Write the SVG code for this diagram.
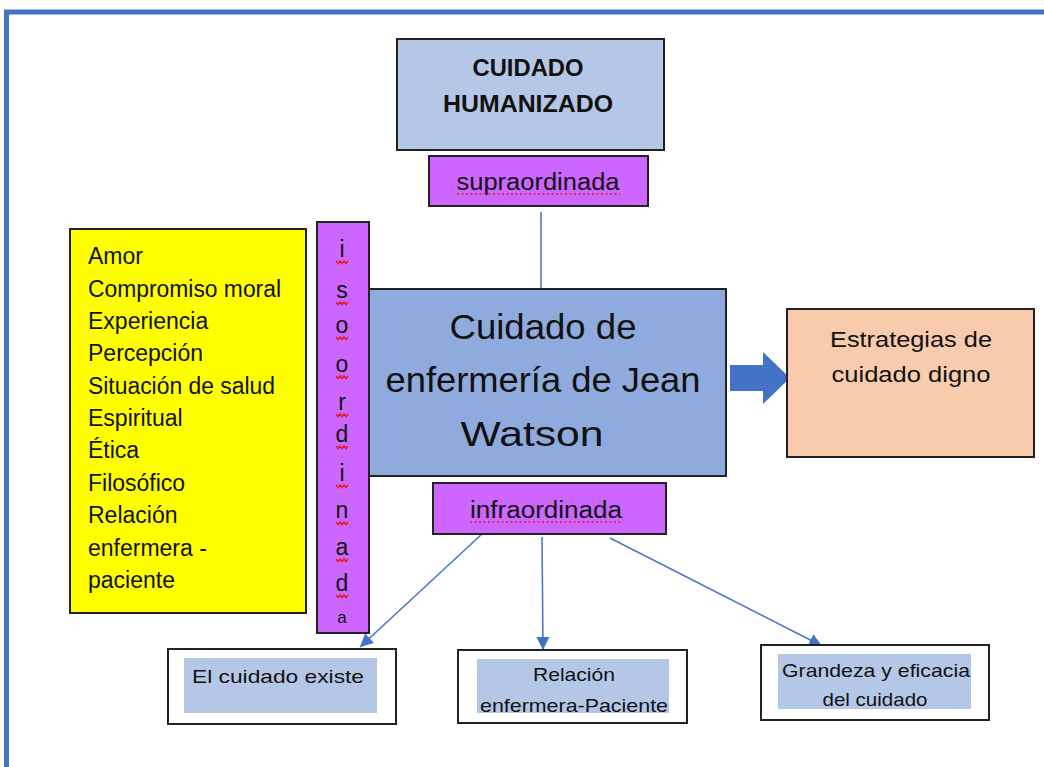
<svg xmlns="http://www.w3.org/2000/svg" width="1044" height="767" viewBox="0 0 1044 767">
<defs>
<style>
.box{stroke:#222;stroke-width:2}
.t{font-family:"Liberation Sans",Arial,sans-serif;fill:#111}
.tc{font-family:"Liberation Sans",Arial,sans-serif;fill:#111;text-anchor:middle}
.sq{fill:none;stroke:#e02020;stroke-width:1.5}
.con{stroke:#4a78c8;stroke-width:1.6;fill:none}
</style>
<marker id="ah" viewBox="0 0 12 12" refX="12" refY="6" markerWidth="13" markerHeight="13" markerUnits="userSpaceOnUse" orient="auto">
<path d="M0,0 L12,6 L0,12 z" fill="#4472C4"/>
</marker>
<path id="sqg" d="M-6,0 l2,2.5 l2,-2.5 l2,2.5 l2,-2.5 l2,2.5 l2,-2.5"/>
</defs>
<rect x="0" y="0" width="1044" height="767" fill="#fff"/>
<rect x="6.5" y="12" width="1100" height="800" fill="#fff" stroke="#4472C4" stroke-width="5"/>

<g id="connectors">
<line class="con" x1="541" y1="212" x2="541" y2="290"/>
<line class="con" x1="482" y1="534" x2="360" y2="647" marker-end="url(#ah)"/>
<line class="con" x1="542" y1="537" x2="543" y2="650" marker-end="url(#ah)"/>
<line class="con" x1="610" y1="538" x2="822" y2="646" marker-end="url(#ah)"/>
</g>

<g id="cuidado-humanizado">
<rect class="box" x="397" y="39" width="267" height="111" fill="#B4C7E7"/>
<text class="tc" x="528" y="76" font-size="23" font-weight="bold" textLength="111" lengthAdjust="spacingAndGlyphs">CUIDADO</text>
<text class="tc" x="528" y="112" font-size="23" font-weight="bold" textLength="170" lengthAdjust="spacingAndGlyphs">HUMANIZADO</text>
</g>

<g id="supraordinada">
<rect class="box" x="429" y="156" width="219" height="50" fill="#CC66FF"/>
<text class="tc" x="538" y="190" font-size="23" textLength="163" lengthAdjust="spacingAndGlyphs">supraordinada</text>
<line x1="457" y1="194" x2="620" y2="194" stroke="#e02020" stroke-width="1.3" stroke-dasharray="2 2.5"/>
</g>

<g id="atributos">
<rect class="box" x="70" y="229" width="236" height="384" fill="#FFFF00"/>
<g class="t" font-size="23">
<text x="88" y="264">Amor</text>
<text x="88" y="297" textLength="193" lengthAdjust="spacingAndGlyphs">Compromiso moral</text>
<text x="88" y="329">Experiencia</text>
<text x="88" y="361">Percepción</text>
<text x="88" y="394" textLength="187" lengthAdjust="spacingAndGlyphs">Situación de salud</text>
<text x="88" y="426">Espiritual</text>
<text x="88" y="458">Ética</text>
<text x="88" y="491">Filosófico</text>
<text x="88" y="523">Relación</text>
<text x="88" y="556">enfermera -</text>
<text x="88" y="588">paciente</text>
</g>
</g>

<g id="isoordinada">
<rect class="box" x="317" y="222" width="52" height="411" fill="#CC66FF"/>
<g class="tc" font-size="23">
<text x="342" y="257">i</text>
<text x="342" y="298">s</text>
<text x="342" y="333">o</text>
<text x="342" y="372">o</text>
<text x="342" y="410">r</text>
<text x="342" y="442">d</text>
<text x="342" y="481">i</text>
<text x="342" y="518">n</text>
<text x="342" y="555">a</text>
<text x="342" y="591">d</text>
<text x="342" y="623" font-size="17">a</text>
</g>
<g class="sq">
<use href="#sqg" x="342" y="261"/>
<use href="#sqg" x="342" y="302"/>
<use href="#sqg" x="342" y="337"/>
<use href="#sqg" x="342" y="376"/>
<use href="#sqg" x="342" y="414"/>
<use href="#sqg" x="342" y="446"/>
<use href="#sqg" x="342" y="485"/>
<use href="#sqg" x="342" y="522"/>
<use href="#sqg" x="342" y="559"/>
<use href="#sqg" x="342" y="595"/>
</g>
</g>

<g id="cuidado-watson">
<rect class="box" x="369" y="289" width="357" height="187" fill="#8FAADC"/>
<text class="tc" x="543" y="339" font-size="35" textLength="187" lengthAdjust="spacingAndGlyphs">Cuidado de</text>
<text class="tc" x="543" y="392" font-size="35" textLength="315" lengthAdjust="spacingAndGlyphs">enfermería de Jean</text>
<text class="tc" x="532" y="446" font-size="35" textLength="143" lengthAdjust="spacingAndGlyphs">Watson</text>
</g>

<g id="flecha">
<path d="M730,365 L763,365 L763,352 L790,378 L763,404 L763,391 L730,391 z" fill="#4472C4"/>
</g>

<g id="estrategias">
<rect class="box" x="787" y="309" width="247" height="148" fill="#F8CBAD"/>
<text class="tc" x="911" y="347" font-size="22" textLength="162" lengthAdjust="spacingAndGlyphs">Estrategias de</text>
<text class="tc" x="911" y="382" font-size="22" textLength="159" lengthAdjust="spacingAndGlyphs">cuidado digno</text>
</g>

<g id="infraordinada">
<rect class="box" x="433" y="483" width="233" height="51" fill="#CC66FF"/>
<text class="tc" x="546" y="518" font-size="23" textLength="152" lengthAdjust="spacingAndGlyphs">infraordinada</text>
<line x1="470" y1="522" x2="622" y2="522" stroke="#e02020" stroke-width="1.3" stroke-dasharray="2 2.5"/>
</g>

<g id="el-cuidado-existe">
<rect class="box" x="168" y="649" width="228" height="75" fill="#fff"/>
<rect x="184" y="658" width="193" height="55" fill="#B4C7E7"/>
<text class="t" x="192" y="683" font-size="19" textLength="172" lengthAdjust="spacingAndGlyphs">El cuidado existe</text>
</g>

<g id="relacion">
<rect class="box" x="458" y="650" width="229" height="73" fill="#fff"/>
<rect x="477" y="659" width="192" height="54" fill="#B4C7E7"/>
<text class="tc" x="574" y="681" font-size="19" textLength="82" lengthAdjust="spacingAndGlyphs">Relación</text>
<text class="tc" x="574" y="712" font-size="19" textLength="188" lengthAdjust="spacingAndGlyphs">enfermera-Paciente</text>
</g>

<g id="grandeza">
<rect class="box" x="761" y="645" width="228" height="75" fill="#fff"/>
<rect x="778" y="654" width="193" height="55" fill="#B4C7E7"/>
<text class="tc" x="876" y="677" font-size="19" textLength="188" lengthAdjust="spacingAndGlyphs">Grandeza y eficacia</text>
<text class="tc" x="875" y="706" font-size="19" textLength="105" lengthAdjust="spacingAndGlyphs">del cuidado</text>
</g>
</svg>
